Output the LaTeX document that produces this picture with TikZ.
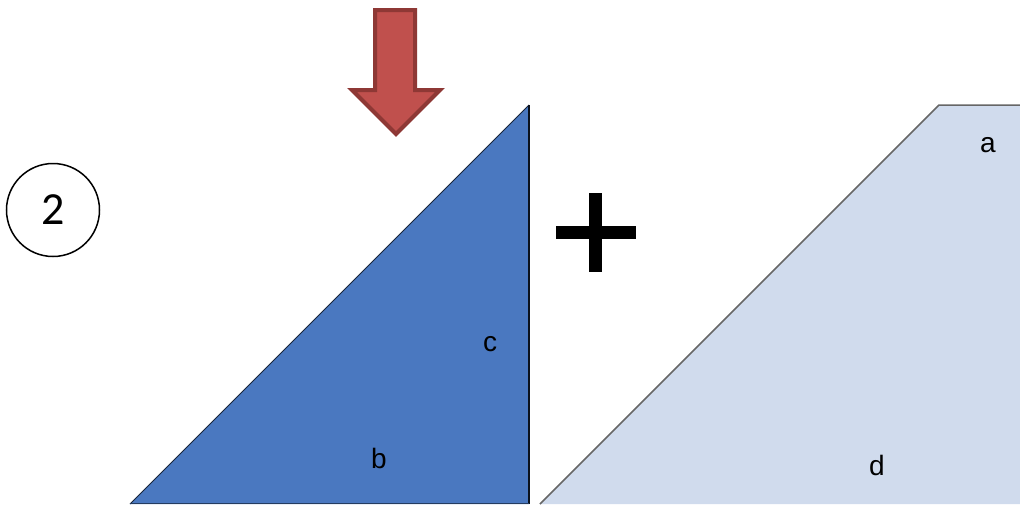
\documentclass[tikz,border=0pt]{standalone}
\usepackage{fontspec}
\setmainfont{Liberation Sans}
\newfontfamily\calib{Carlito}
\definecolor{triblue}{HTML}{4A78C0}
\definecolor{trilight}{HTML}{D0DBED}
\definecolor{arrowred}{HTML}{C0504D}
\definecolor{arrowedge}{HTML}{8E3835}
\tikzset{
  lbl/.style={font=\fontsize{28}{30}\selectfont, text=black, inner sep=0pt},
}
\begin{document}
\begin{tikzpicture}[x=1pt,y=-1pt]
\useasboundingbox (0,0) rectangle (1020,504);
\fill[white] (0,0) rectangle (1020,504);
% light trapezoid
\fill[trilight] (540,504) -- (939,105) -- (1020,105) -- (1020,504) -- cycle;
\draw[line width=1.5pt, black!60] (540,504) -- (939,105) -- (1020,105);
% blue triangle
\fill[triblue] (130,504) -- (529,105) -- (529,504) -- cycle;
\draw[line width=1pt, black!70!triblue] (130,504) -- (529,105);
\draw[line width=2pt, black!85!triblue] (529,105) -- (529,504);
\draw[line width=1pt, black!50!triblue] (130,503.5) -- (529,503.5);
% red arrow
\draw[fill=arrowred, draw=arrowedge, line width=4pt, line join=miter]
  (375,10) -- (415,10) -- (415,90) -- (440,90) -- (396,134) -- (352,90) -- (375,90) -- cycle;
% plus sign
\fill[black] (556,226) rectangle (636,239);
\fill[black] (589,193) rectangle (602,272);
% circle
\node[draw, circle, line width=1.5pt, minimum size=93pt, inner sep=0pt,
      font=\calib\fontsize{46}{48}\selectfont] (num) at (53,210) {2};
% labels
\node[lbl] (la) at (988,145) {a};
\node[lbl] (lc) at (490,344) {c};
\node[lbl] (lb) at (379,458) {b};
\node[lbl] (ld) at (877,465) {d};
\end{tikzpicture}
\end{document}
